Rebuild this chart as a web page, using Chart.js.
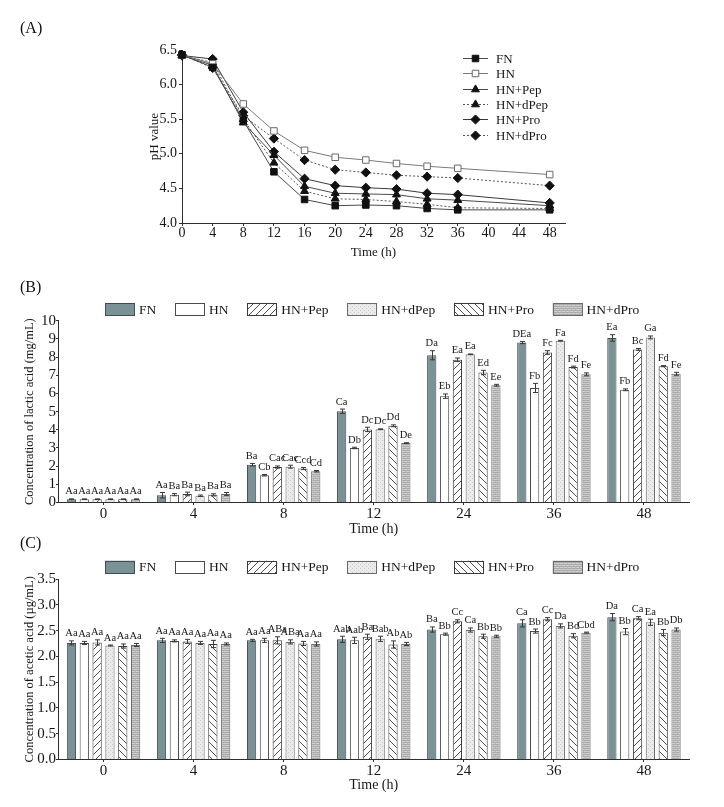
<!DOCTYPE html>
<html><head><meta charset="utf-8">
<script src="https://cdn.jsdelivr.net/npm/chart.js@4.4.1/dist/chart.umd.min.js"></script>
<style>
html,body{margin:0;padding:0;background:#fff;}
#wrap{position:relative;width:724px;height:807px;overflow:hidden;font-family:"Liberation Serif","Times New Roman",serif;}
canvas{position:absolute;left:0;}
.plabel{position:absolute;left:20px;font-size:16px;color:#111;line-height:1;z-index:2;}
</style></head><body>
<div id="wrap">
<div class="plabel" style="top:20px">(A)</div>
<div class="plabel" style="top:279px">(B)</div>
<div class="plabel" style="top:535px">(C)</div>
<canvas id="cA" width="724" height="270" style="top:0"></canvas>
<canvas id="cB" width="724" height="270" style="top:270px"></canvas>
<canvas id="cC" width="724" height="267" style="top:540px"></canvas>
</div>
<script>
// ---------- DATA ----------
const groupNames = ['FN', 'HN', 'HN+Pep', 'HN+dPep', 'HN+Pro', 'HN+dPro'];

// (A) pH value
const phTimes = [0, 4, 8, 12, 16, 20, 24, 28, 32, 36, 48];
const phFN   = [6.43, 6.25, 5.48, 4.74, 4.34, 4.25, 4.26, 4.25, 4.21, 4.19, 4.19];
const phHN   = [6.43, 6.30, 5.72, 5.33, 5.05, 4.95, 4.91, 4.86, 4.82, 4.79, 4.70];
const phPep  = [6.42, 6.28, 5.45, 4.98, 4.53, 4.43, 4.42, 4.41, 4.35, 4.33, 4.25];
const phDPep = [6.42, 6.32, 5.50, 4.87, 4.46, 4.35, 4.34, 4.31, 4.27, 4.22, 4.21];
const phPro  = [6.42, 6.37, 5.60, 5.03, 4.64, 4.54, 4.51, 4.49, 4.43, 4.41, 4.29];
const phDPro = [6.43, 6.24, 5.55, 5.22, 4.91, 4.77, 4.73, 4.69, 4.67, 4.65, 4.54];

// (B),(C) categories
const timeLabels = ['0', '4', '8', '12', '24', '36', '48'];

// (B) lactic acid (mg/mL)
const lacticFN   = [0.18, 0.40, 2.08, 5.02, 8.10, 8.80, 9.05];
const lacticHN   = [0.18, 0.43, 1.50, 3.00, 5.85, 6.30, 6.20];
const lacticPep  = [0.18, 0.47, 1.95, 4.02, 7.85, 8.25, 8.42];
const lacticDPep = [0.18, 0.37, 1.97, 4.03, 8.15, 8.90, 9.08];
const lacticPro  = [0.18, 0.42, 1.87, 4.22, 7.15, 7.45, 7.50];
const lacticDPro = [0.18, 0.47, 1.72, 3.27, 6.45, 7.05, 7.08];
const lacticErrFN   = [0.02, 0.15, 0.07, 0.12, 0.25, 0.06, 0.18];
const lacticErrHN   = [0.02, 0.06, 0.04, 0.04, 0.12, 0.25, 0.05];
const lacticErrPep  = [0.02, 0.10, 0.06, 0.12, 0.10, 0.10, 0.05];
const lacticErrDPep = [0.02, 0.04, 0.08, 0.02, 0.02, 0.02, 0.08];
const lacticErrPro  = [0.02, 0.06, 0.06, 0.05, 0.12, 0.05, 0.03];
const lacticErrDPro = [0.02, 0.08, 0.04, 0.02, 0.05, 0.08, 0.08];
const lacticLetFN   = ['Aa', 'Aa', 'Ba', 'Ca', 'Da', 'DEa', 'Ea'];
const lacticLetHN   = ['Aa', 'Ba', 'Cb', 'Db', 'Eb', 'Fb', 'Fb'];
const lacticLetPep  = ['Aa', 'Ba', 'Cac', 'Dc', 'Ea', 'Fc', 'Bc'];
const lacticLetDPep = ['Aa', 'Ba', 'Cac', 'Dc', 'Ea', 'Fa', 'Ga'];
const lacticLetPro  = ['Aa', 'Ba', 'Ccd', 'Dd', 'Ed', 'Fd', 'Fd'];
const lacticLetDPro = ['Aa', 'Ba', 'Cd', 'De', 'Ee', 'Fe', 'Fe'];

// (C) acetic acid (ug/mL)
const aceticFN   = [2.26, 2.31, 2.31, 2.33, 2.52, 2.64, 2.76];
const aceticHN   = [2.26, 2.30, 2.31, 2.31, 2.43, 2.49, 2.48];
const aceticPep  = [2.27, 2.29, 2.31, 2.38, 2.68, 2.72, 2.74];
const aceticDPep = [2.21, 2.26, 2.28, 2.34, 2.51, 2.59, 2.66];
const aceticPro  = [2.20, 2.24, 2.25, 2.23, 2.39, 2.40, 2.46];
const aceticDPro = [2.22, 2.24, 2.24, 2.24, 2.39, 2.46, 2.52];
const aceticErrFN   = [0.04, 0.04, 0.02, 0.06, 0.05, 0.07, 0.07];
const aceticErrHN   = [0.03, 0.02, 0.04, 0.06, 0.02, 0.04, 0.06];
const aceticErrPep  = [0.05, 0.04, 0.07, 0.05, 0.03, 0.03, 0.03];
const aceticErrDPep = [0.01, 0.03, 0.04, 0.05, 0.04, 0.04, 0.06];
const aceticErrPro  = [0.04, 0.07, 0.04, 0.07, 0.04, 0.04, 0.06];
const aceticErrDPro = [0.03, 0.02, 0.04, 0.03, 0.02, 0.01, 0.03];
const aceticLetFN   = ['Aa', 'Aa', 'Aa', 'Aab', 'Ba', 'Ca', 'Da'];
const aceticLetHN   = ['Aa', 'Aa', 'Aa', 'Aab', 'Bb', 'Bb', 'Bb'];
const aceticLetPep  = ['Aa', 'Aa', 'ABa', 'Ba', 'Cc', 'Cc', 'Ca'];
const aceticLetDPep = ['Aa', 'Aa', 'ABa', 'Bab', 'Ca', 'Da', 'Ea'];
const aceticLetPro  = ['Aa', 'Aa', 'Aa', 'Ab', 'Bb', 'Bd', 'Bb'];
const aceticLetDPro = ['Aa', 'Aa', 'Aa', 'Ab', 'Bb', 'Cbd', 'Db'];

// ---------- STYLE HELPERS ----------
const SERIF = '"Liberation Serif", "Times New Roman", serif';
const TXT = '#161616';
const AX = '#2e2e2e';

function makePattern(kind) {
  const c = document.createElement('canvas');
  const s = (kind === 'fwd' || kind === 'back') ? 7 : 4;
  c.width = s; c.height = s;
  const g = c.getContext('2d');
  if (kind === 'fwd' || kind === 'back') {
    g.fillStyle = '#fff'; g.fillRect(0, 0, s, s);
    g.strokeStyle = '#3a3a3a'; g.lineWidth = 0.9;
    g.beginPath();
    if (kind === 'fwd') {
      g.moveTo(-1, s + 1); g.lineTo(s + 1, -1);
      g.moveTo(-1, 1); g.lineTo(1, -1);
      g.moveTo(s - 1, s + 1); g.lineTo(s + 1, s - 1);
    } else {
      g.moveTo(-1, -1); g.lineTo(s + 1, s + 1);
      g.moveTo(s - 1, -1); g.lineTo(s + 1, 1);
      g.moveTo(-1, s - 1); g.lineTo(1, s + 1);
    }
    g.stroke();
  } else if (kind === 'dots') {
    g.fillStyle = '#ebebeb'; g.fillRect(0, 0, s, s);
    g.fillStyle = '#c9c9c9'; g.fillRect(0, 0, 1, 1); g.fillRect(2, 2, 1, 1);
  } else {
    g.fillStyle = '#d0d0d0'; g.fillRect(0, 0, s, s);
    g.fillStyle = '#aaaaaa'; g.fillRect(0, 0, s, 1); g.fillRect(0, 2, s, 1);
    g.fillStyle = '#bdbdbd'; g.fillRect(1, 1, 1, 1); g.fillRect(3, 3, 1, 1);
  }
  return document.createElement('canvas').getContext('2d').createPattern(c, 'repeat');
}

const barFills = ['#7a9195', '#ffffff', makePattern('fwd'), makePattern('dots'), makePattern('back'), makePattern('lines')];
const barBorders = ['#3e4d50', '#4a4a4a', '#3a3a3a', '#6a6a6a', '#3a3a3a', '#6a6a6a'];

// ---------- PLUGINS ----------
const errorBarPlugin = {
  id: 'errBars',
  afterDatasetsDraw(chart) {
    const ctx = chart.ctx, ys = chart.scales.y;
    chart.data.datasets.forEach((ds, i) => {
      if (!ds.errors) return;
      const meta = chart.getDatasetMeta(i);
      meta.data.forEach((el, j) => {
        const v = ds.data[j], e = ds.errors[j];
        const x = Math.round(el.x) + 0.5;
        const yt = ys.getPixelForValue(v + e), yb = ys.getPixelForValue(v - e);
        ctx.save();
        ctx.strokeStyle = '#3a3a3a'; ctx.lineWidth = 1;
        ctx.beginPath();
        ctx.moveTo(x, yt); ctx.lineTo(x, yb);
        ctx.moveTo(x - 2.5, yt); ctx.lineTo(x + 2.5, yt);
        ctx.moveTo(x - 2.5, yb); ctx.lineTo(x + 2.5, yb);
        ctx.stroke();
        if (ds.letters) {
          ctx.fillStyle = TXT;
          ctx.font = '10.5px ' + SERIF;
          ctx.textAlign = 'center'; ctx.textBaseline = 'bottom';
          ctx.fillText(ds.letters[j], el.x, yt - 2);
        }
        ctx.restore();
      });
    });
  }
};

const boxLegendPlugin = {
  id: 'boxLegend',
  afterDraw(chart, args, opts) {
    if (!opts || opts.y === undefined) return;
    const ctx = chart.ctx;
    let x = opts.x; const y = opts.y;
    ctx.save();
    ctx.font = opts.fontSpec;
    ctx.textBaseline = 'middle'; ctx.textAlign = 'left';
    chart.data.datasets.forEach(ds => {
      ctx.fillStyle = ds.backgroundColor;
      ctx.fillRect(x, y - 6, 30, 13);
      ctx.strokeStyle = ds.borderColor; ctx.lineWidth = 1;
      ctx.strokeRect(Math.round(x) + 0.5, Math.round(y - 6) + 0.5, 29, 12);
      ctx.fillStyle = TXT;
      ctx.fillText(ds.label, x + 34, y + 1);
      x += 34 + ctx.measureText(ds.label).width + opts.gap;
    });
    ctx.restore();
  }
};

function drawMarker(ctx, style, r, x, y) {
  ctx.beginPath();
  if (style === 'rect') {
    const s = Math.SQRT1_2 * r;
    ctx.rect(x - s, y - s, 2 * s, 2 * s);
  } else if (style === 'triangle') {
    ctx.moveTo(x, y - r);
    ctx.lineTo(x + r * 0.866, y + r * 0.5);
    ctx.lineTo(x - r * 0.866, y + r * 0.5);
    ctx.closePath();
  } else {
    ctx.moveTo(x, y - r); ctx.lineTo(x + r, y); ctx.lineTo(x, y + r); ctx.lineTo(x - r, y);
    ctx.closePath();
  }
  ctx.fill(); ctx.stroke();
}

const lineLegendPlugin = {
  id: 'lineLegend',
  afterDraw(chart, args, opts) {
    if (!opts || opts.y === undefined) return;
    const ctx = chart.ctx;
    ctx.save();
    ctx.font = opts.fontSpec;
    ctx.textBaseline = 'middle'; ctx.textAlign = 'left';
    chart.data.datasets.forEach((ds, i) => {
      const y = Math.round(opts.y + i * opts.rowGap) + 0.5;
      ctx.strokeStyle = ds.borderColor; ctx.lineWidth = 1;
      ctx.setLineDash(ds.borderDash || []);
      ctx.beginPath(); ctx.moveTo(opts.x, y); ctx.lineTo(opts.x + 25, y); ctx.stroke();
      ctx.setLineDash([]);
      ctx.fillStyle = ds.pointBackgroundColor; ctx.strokeStyle = ds.pointBorderColor;
      drawMarker(ctx, ds.pointStyle, ds.pointRadius, opts.x + 12.5, y);
      ctx.fillStyle = TXT;
      ctx.fillText(ds.label, opts.x + 33, y + 1);
    });
    ctx.restore();
  }
};

// ---------- CHART A ----------
function lineDs(label, arr, st) {
  return Object.assign({
    label: label,
    data: phTimes.map((t, i) => ({x: t, y: arr[i]})),
    borderWidth: 1,
    pointBorderWidth: 1,
    clip: false,
    tension: 0
  }, st);
}

new Chart(document.getElementById('cA'), {
  type: 'line',
  data: {
    datasets: [
      lineDs(groupNames[0], phFN,   {borderColor: '#4a4a4a', pointStyle: 'rect', pointRadius: 4.6, pointBackgroundColor: '#111', pointBorderColor: '#111'}),
      lineDs(groupNames[1], phHN,   {borderColor: '#7a7a7a', pointStyle: 'rect', pointRadius: 4.6, pointBackgroundColor: '#fff', pointBorderColor: '#6a6a6a'}),
      lineDs(groupNames[2], phPep,  {borderColor: '#4a4a4a', pointStyle: 'triangle', pointRadius: 4.6, pointBackgroundColor: '#111', pointBorderColor: '#111'}),
      lineDs(groupNames[3], phDPep, {borderColor: '#555', borderDash: [2, 2], pointStyle: 'triangle', pointRadius: 4.6, pointBackgroundColor: '#111', pointBorderColor: '#111'}),
      lineDs(groupNames[4], phPro,  {borderColor: '#3a3a3a', pointStyle: 'rectRot', pointRadius: 4.6, pointBackgroundColor: '#111', pointBorderColor: '#111'}),
      lineDs(groupNames[5], phDPro, {borderColor: '#555', borderDash: [2, 2], pointStyle: 'rectRot', pointRadius: 4.6, pointBackgroundColor: '#111', pointBorderColor: '#111'})
    ]
  },
  options: {
    responsive: false, animation: false, devicePixelRatio: 1,
    layout: {padding: {left: 147, right: 159, top: 50, bottom: 10}},
    plugins: {
      legend: {display: false}, tooltip: {enabled: false},
      lineLegend: {x: 463, y: 58, rowGap: 15.3, fontSpec: '13px ' + SERIF}
    },
    scales: {
      x: {
        type: 'linear', min: 0, max: 50,
        afterFit(s) { s.height = 37; },
        ticks: {stepSize: 4, includeBounds: false, padding: -1, color: TXT, font: {family: SERIF, size: 14}, maxRotation: 0, autoSkip: false},
        grid: {drawOnChartArea: false, drawTicks: true, tickLength: 3, color: AX},
        border: {color: AX, width: 1},
        title: {display: true, text: 'Time (h)', padding: 0, color: TXT, font: {family: SERIF, size: 13}}
      },
      y: {
        min: 4, max: 6.5,
        afterFit(s) { s.width = 35; },
        ticks: {stepSize: 0.5, padding: 2, color: TXT, font: {family: SERIF, size: 14}, autoSkip: false, callback: v => v.toFixed(1)},
        grid: {drawOnChartArea: false, drawTicks: true, tickLength: 3, color: AX},
        border: {color: AX, width: 1},
        title: {display: true, text: 'pH value', padding: 0, color: TXT, font: {family: SERIF, size: 13}}
      }
    }
  },
  plugins: [lineLegendPlugin]
});

// ---------- BAR CHARTS ----------
function barDs(i, data, errors, letters) {
  return {
    label: groupNames[i], data: data, errors: errors, letters: letters,
    backgroundColor: barFills[i], borderColor: barBorders[i], borderWidth: 1,
    barPercentage: 0.72, categoryPercentage: 0.855
  };
}

function barOptions(pad, xH, yW, yMax, yStep, yTitle, legendY, fmt) {
  return {
    responsive: false, animation: false, devicePixelRatio: 1,
    layout: {padding: pad},
    plugins: {
      legend: {display: false}, tooltip: {enabled: false},
      boxLegend: {x: 105, y: legendY, gap: 18.7, fontSpec: '13.5px ' + SERIF}
    },
    scales: {
      x: {
        type: 'category', offset: true,
        afterFit(s) { s.height = xH; },
        ticks: {padding: 0, color: TXT, font: {family: SERIF, size: 15}, maxRotation: 0, autoSkip: false},
        grid: {offset: false, drawOnChartArea: false, drawTicks: true, tickLength: 2.5, color: AX},
        border: {color: AX, width: 1},
        title: {display: true, text: 'Time (h)', padding: 0, color: TXT, font: {family: SERIF, size: 14}}
      },
      y: {
        min: 0, max: yMax,
        afterFit(s) { s.width = yW; },
        ticks: {stepSize: yStep, padding: 0, color: TXT, font: {family: SERIF, size: 15}, autoSkip: false, callback: fmt},
        grid: {drawOnChartArea: false, drawTicks: true, tickLength: 2.5, color: AX},
        border: {color: AX, width: 1},
        title: {display: true, text: yTitle, padding: 0, color: TXT, font: {family: SERIF, size: 12.5}}
      }
    }
  };
}

new Chart(document.getElementById('cB'), {
  type: 'bar',
  data: {
    labels: timeLabels,
    datasets: [
      barDs(0, lacticFN, lacticErrFN, lacticLetFN),
      barDs(1, lacticHN, lacticErrHN, lacticLetHN),
      barDs(2, lacticPep, lacticErrPep, lacticLetPep),
      barDs(3, lacticDPep, lacticErrDPep, lacticLetDPep),
      barDs(4, lacticPro, lacticErrPro, lacticLetPro),
      barDs(5, lacticDPro, lacticErrDPro, lacticLetDPro)
    ]
  },
  options: barOptions({left: 22, right: 35, top: 50.7, bottom: 2.5}, 35, 36.5, 10, 1,
    'Concentration of lactic acid (mg/mL)', 39, v => String(v)),
  plugins: [errorBarPlugin, boxLegendPlugin]
});

new Chart(document.getElementById('cC'), {
  type: 'bar',
  data: {
    labels: timeLabels,
    datasets: [
      barDs(0, aceticFN, aceticErrFN, aceticLetFN),
      barDs(1, aceticHN, aceticErrHN, aceticLetHN),
      barDs(2, aceticPep, aceticErrPep, aceticLetPep),
      barDs(3, aceticDPep, aceticErrDPep, aceticLetDPep),
      barDs(4, aceticPro, aceticErrPro, aceticLetPro),
      barDs(5, aceticDPro, aceticErrDPro, aceticLetDPro)
    ]
  },
  options: barOptions({left: 22, right: 35, top: 39, bottom: 13}, 34.5, 36.5, 3.5, 0.5,
    'Concentration of acetic acid (\u00b5g/mL)', 26.7, v => v.toFixed(1)),
  plugins: [errorBarPlugin, boxLegendPlugin]
});
</script>
</body></html>
